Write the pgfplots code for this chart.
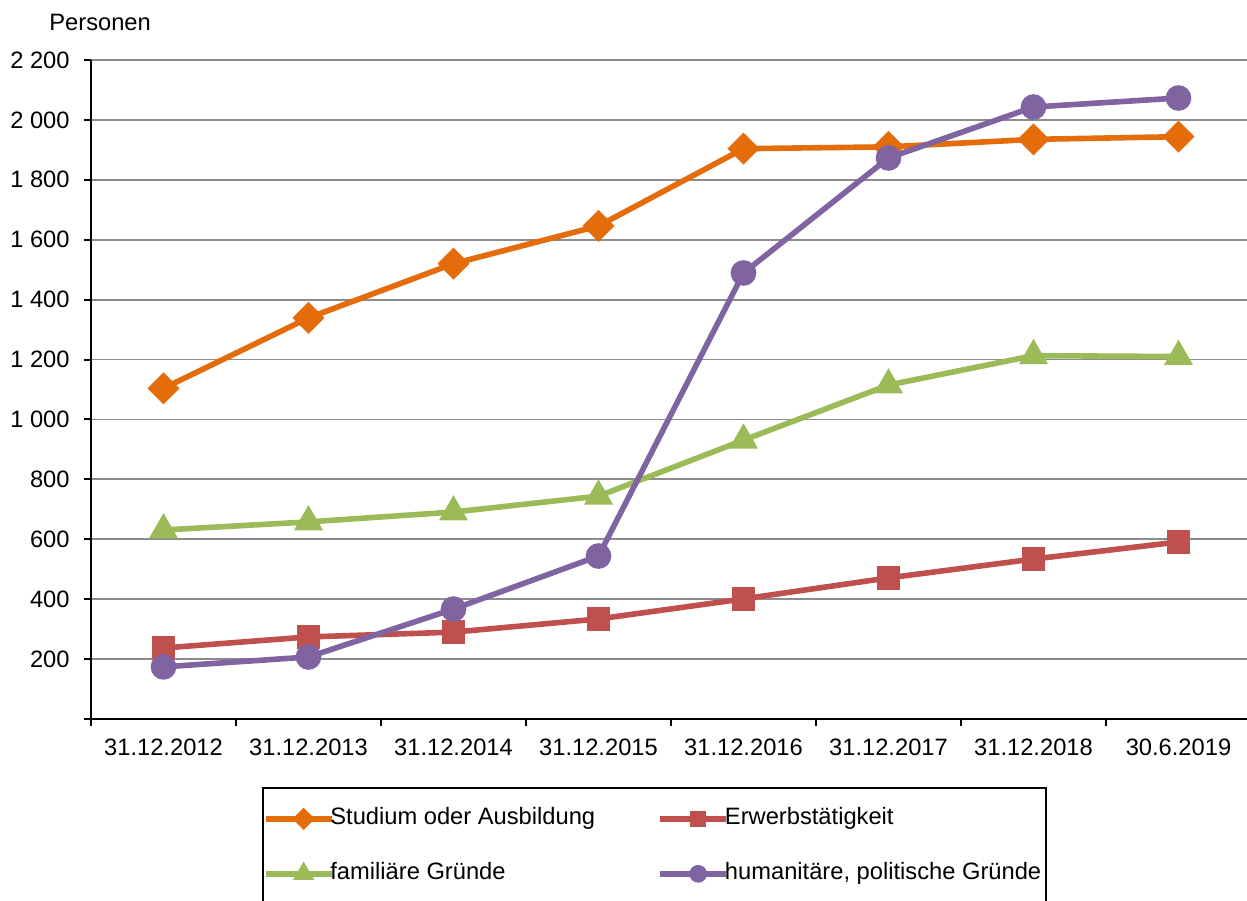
\documentclass[border=0pt]{standalone}
\usepackage{pgfplots}
\pgfplotsset{compat=1.18}
\usepackage{fontspec}
\setmainfont{Liberation Sans}
\definecolor{cOr}{HTML}{E46C0A}
\definecolor{cRe}{HTML}{C0504D}
\definecolor{cGr}{HTML}{9BBB59}
\definecolor{cPu}{HTML}{8064A2}
\definecolor{cGrid}{RGB}{140,140,140}
\begin{document}
\begin{tikzpicture}
\path[use as bounding box, clip] (-45.5pt,-90.5pt) rectangle (578pt,359.5pt);
\begin{axis}[
  at={(0pt,0pt)}, anchor=south west,
  width=580pt, height=329.5pt, scale only axis,
  font=\fontsize{11.85pt}{14pt}\selectfont,
  /pgf/number format/assume math mode=true,
  xmin=-0.5, xmax=7.5, ymin=0, ymax=2200,
  axis lines=left,
  axis line style={-, line width=1pt, black},
  xtick={0,...,7},
  xticklabels={31.12.2012,31.12.2013,31.12.2014,31.12.2015,31.12.2016,31.12.2017,31.12.2018,30.6.2019},
  major x tick style={draw=none},
  minor xtick={-0.5,0.5,...,7.5},
  ytick={0,200,...,2200},
  yticklabels={,200,400,600,800,1 000,1 200,1 400,1 600,1 800,2 000,2 200},
  tick align=outside,
  major tick length=3.5pt, minor tick length=3.5pt,
  every tick/.style={black, line width=1pt},
  ymajorgrids,
  major grid style={cGrid, line width=0.9pt},
  yticklabel style={anchor=east, inner sep=0pt, xshift=-7pt},
  xticklabel style={anchor=north, inner sep=0pt, yshift=-6.5pt},
  clip=false,
  legend columns=2,
  legend style={at={(axis description cs:0,0)}, anchor=north west,
    xshift=85.5pt, yshift=-34pt, draw=black, line width=0.8pt,
    inner xsep=0pt, inner ysep=10pt, row sep=16.5pt, column sep=-2pt,
    nodes={inner sep=0pt, text height=8.5pt, text depth=2.5pt},
    /tikz/every even column/.append style={column sep=0pt}},
  legend image code/.code={%
    \path (0pt,0pt) -- (33pt,0pt);
    \draw[mark repeat=2, mark phase=2, #1, every mark/.append style={scale=0.6}]
      plot coordinates {(6pt,0pt) (19pt,0pt) (32pt,0pt)};},
]
\addplot[cOr, line width=2.8pt, mark=square*, mark size=4.24pt, mark options={rotate=45, solid}]
  coordinates {(0,1104)(1,1339)(2,1520)(3,1646)(4,1904)(5,1910)(6,1935)(7,1944)};
\addlegendentry{\makebox[163.5pt][l]{Studium oder Ausbildung}}
\addplot[cRe, line width=2.8pt, mark=square*, mark size=4.5pt]
  coordinates {(0,237)(1,274)(2,290)(3,334)(4,401)(5,471)(6,534)(7,591)};
\addlegendentry{\makebox[160.5pt][l]{Erwerbstätigkeit}}
\addplot[cGr, line width=2.8pt, mark=triangle*, mark size=5.6pt]
  coordinates {(0,631)(1,658)(2,691)(3,744)(4,931)(5,1115)(6,1213)(7,1210)};
\addlegendentry{\makebox[163.5pt][l]{familiäre Gründe}}
\addplot[cPu, line width=2.8pt, mark=*, mark size=5pt]
  coordinates {(0,174)(1,207)(2,367)(3,544)(4,1489)(5,1873)(6,2043)(7,2073)};
\addlegendentry{\makebox[160.5pt][l]{humanitäre, politische Gründe}}
\node[anchor=base west, inner sep=0pt] at (axis description cs:0,1) [xshift=-21pt, yshift=14.5pt] {Personen};
\end{axis}
\end{tikzpicture}
\end{document}
